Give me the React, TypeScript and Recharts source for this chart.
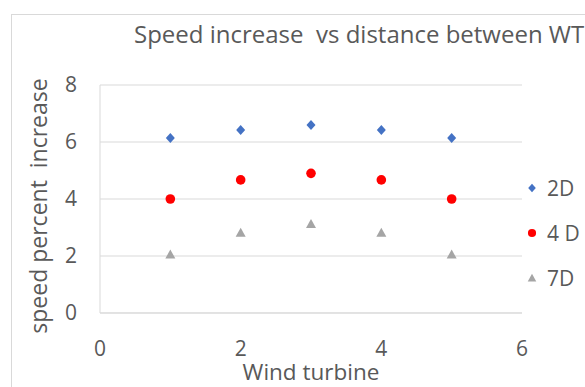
import React from 'react';
import { ScatterChart, Scatter, XAxis, YAxis, CartesianGrid } from 'recharts';

// turbine index
const turbines = [1, 2, 3, 4, 5];
// speed percent increase per spacing
const series2D = [6.14, 6.42, 6.6, 6.42, 6.14];
const series4D = [4.0, 4.67, 4.9, 4.67, 4.0];
const series7D = [2.05, 2.82, 3.12, 2.82, 2.05];

const xTicks = [0, 2, 4, 6];
const yTicks = [0, 2, 4, 6, 8];

const toPoints = (vals: number[]) => turbines.map((x, i) => ({ x, y: vals[i] }));

const TEXT = '#595959';
const FONT = '"Open Sans", "Liberation Sans", sans-serif';

// marker shapes, drawn around cx/cy that the scales give
const Diamond = ({ cx, cy, fill, s = 1 }: any) => (
  <path
    d={`M${cx},${cy - 5 * s} L${cx + 4.5 * s},${cy} L${cx},${cy + 5 * s} L${cx - 4.5 * s},${cy} Z`}
    fill={fill}
  />
);
const Dot = ({ cx, cy, fill, s = 1 }: any) => <circle cx={cx} cy={cy} r={4.8 * s} fill={fill} />;
const Tri = ({ cx, cy, fill, s = 1 }: any) => (
  <path
    d={`M${cx},${cy - 5 * s} L${cx + 5 * s},${cy + 4 * s} L${cx - 5 * s},${cy + 4 * s} Z`}
    fill={fill}
  />
);

const legendItems = [
  { name: '2D', color: '#4472C4', Shape: Diamond },
  { name: '4 D', color: '#FF0000', Shape: Dot },
  { name: '7D', color: '#A5A5A5', Shape: Tri },
];

function LegendBox() {
  return (
    <div
      style={{
        position: 'absolute',
        left: 525,
        top: 165,
        fontFamily: FONT,
        fontSize: 21,
        color: TEXT,
      }}
    >
      {legendItems.map(({ name, color, Shape }) => (
        <div key={name} style={{ display: 'flex', alignItems: 'center', height: 45 }}>
          <svg width={14} height={14} style={{ marginRight: 8 }}>
            <Shape cx={7} cy={7} fill={color} s={0.85} />
          </svg>
          <span>{name}</span>
        </div>
      ))}
    </div>
  );
}

export default function App() {
  return (
    <div
      style={{
        position: 'absolute',
        left: 0,
        top: 0,
        width: 585,
        height: 387,
        background: '#fff',
        overflow: 'hidden',
        fontFamily: FONT,
      }}
    >
      {/* chart frame, runs off the right and bottom */}
      <div
        style={{
          position: 'absolute',
          left: 11,
          top: 14,
          width: 600,
          height: 400,
          border: '1px solid #d9d9d9',
        }}
      />
      <div
        style={{
          position: 'absolute',
          left: 134,
          top: 17,
          fontSize: 24,
          lineHeight: '34px',
          color: TEXT,
          whiteSpace: 'pre',
        }}
      >
        Speed increase  vs distance between WT
      </div>
      <ScatterChart
        width={585}
        height={387}
        margin={{ top: 85, right: 63, bottom: 0, left: 0 }}
        style={{ position: 'absolute', left: 0, top: 0 }}
      >
        <CartesianGrid horizontal vertical={false} stroke="#d9d9d9" />
        <XAxis
          type="number"
          dataKey="x"
          domain={[0, 6]}
          ticks={xTicks}
          height={74}
          tickSize={0}
          tickMargin={28}
          axisLine={{ stroke: '#d9d9d9' }}
          tick={{ fill: TEXT, fontSize: 21 }}
          label={{
            content: () => (
              <text x={311} y={380} textAnchor="middle" fill={TEXT} fontSize={22.5}>
                Wind turbine
              </text>
            ),
          }}
        />
        <YAxis
          type="number"
          dataKey="y"
          domain={[0, 8]}
          ticks={yTicks}
          width={100}
          tickSize={0}
          tickMargin={23}
          axisLine={{ stroke: '#d9d9d9' }}
          tick={{ fill: TEXT, fontSize: 21 }}
          label={{
            content: () => (
              <text
                x={47}
                y={206}
                transform="rotate(-90 47 206)"
                textAnchor="middle"
                fill={TEXT}
                fontSize={23}
                style={{ whiteSpace: 'pre' }}
              >
                speed percent  increase
              </text>
            ),
          }}
        />
        <Scatter name="2D" data={toPoints(series2D)} fill="#4472C4" shape={Diamond} isAnimationActive={false} />
        <Scatter name="4 D" data={toPoints(series4D)} fill="#FF0000" shape={Dot} isAnimationActive={false} />
        <Scatter name="7D" data={toPoints(series7D)} fill="#A5A5A5" shape={Tri} isAnimationActive={false} />
      </ScatterChart>
      <LegendBox />
    </div>
  );
}
